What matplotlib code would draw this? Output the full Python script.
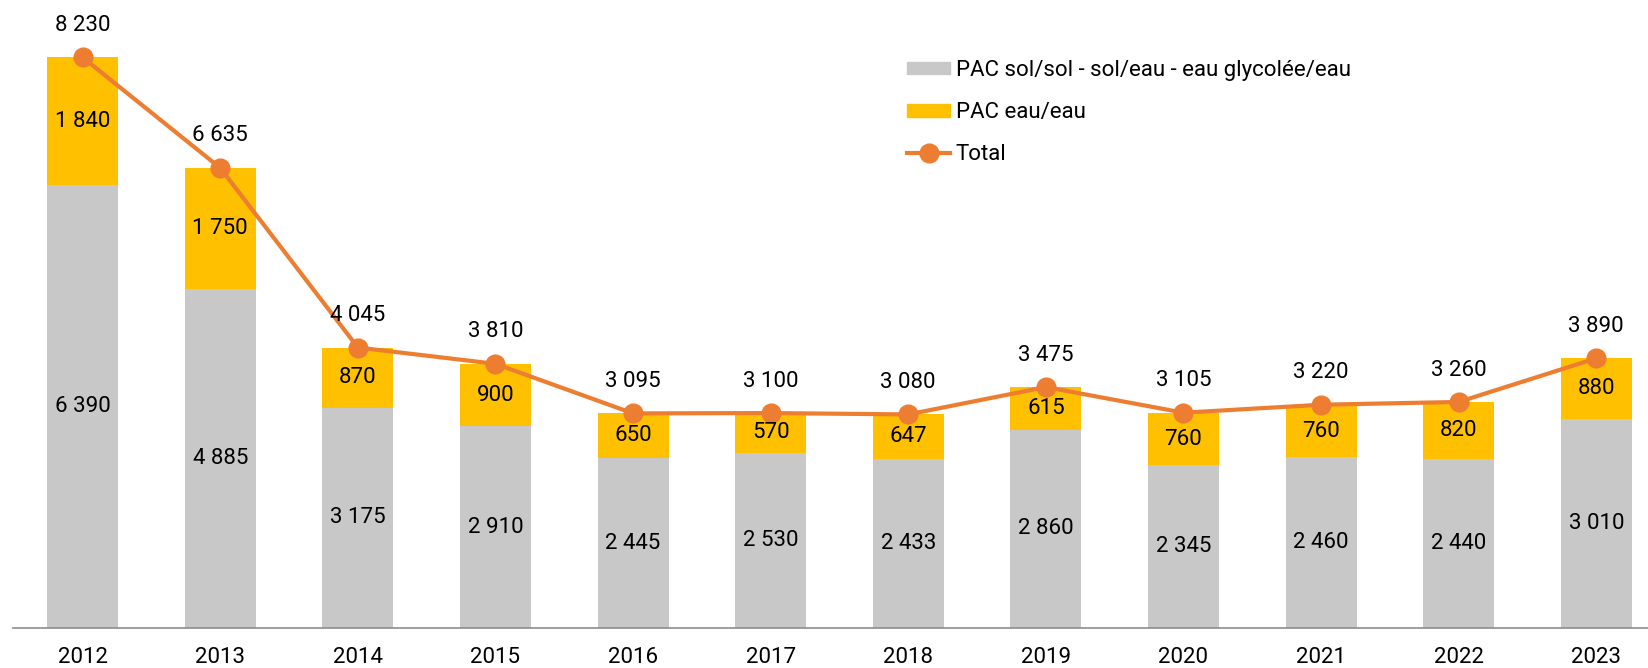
import matplotlib.pyplot as plt
from matplotlib.patches import Patch
from matplotlib.lines import Line2D

# Data
years = ['2012', '2013', '2014', '2015', '2016', '2017', '2018', '2019', '2020', '2021', '2022', '2023']
sol_sol = [6390, 4885, 3175, 2910, 2445, 2530, 2433, 2860, 2345, 2460, 2440, 3010]
eau_eau = [1840, 1750, 870, 900, 650, 570, 647, 615, 760, 760, 820, 880]
total = [8230, 6635, 4045, 3810, 3095, 3100, 3080, 3475, 3105, 3220, 3260, 3890]

GREY = '#C8C8C8'
YELLOW = '#FFC000'
ORANGE = '#ED7D31'
FS = 16


def fmt(v):
    return f"{v:,}".replace(",", " ")


plt.rcParams['font.family'] = ['Roboto', 'DejaVu Sans']
fig = plt.figure(figsize=(16.48, 6.68), dpi=100)
ax = fig.add_axes([13 / 1648, 40 / 668, 1 - 13 / 1648, 628 / 668])

x = list(range(len(years)))
w = 0.516
ax.bar(x, sol_sol, width=w, color=GREY, zorder=1)
ax.bar(x, eau_eau, width=w, bottom=sol_sol, color=YELLOW, zorder=1)
ax.plot(x, total, color=ORANGE, lw=3, marker='o', ms=13.5, zorder=3)

# segment labels
for i in x:
    ax.text(i, sol_sol[i] / 2, fmt(sol_sol[i]), ha='center', va='center', fontsize=FS)
    ax.text(i, sol_sol[i] + eau_eau[i] / 2, fmt(eau_eau[i]), ha='center', va='center', fontsize=FS)
    ax.annotate(fmt(total[i]), (i, total[i]), xytext=(0, 23), textcoords='offset points',
                ha='center', va='center', fontsize=FS)

ax.set_xlim(-0.506, 11.376)
ax.set_ylim(0, 9057)
ax.set_xticks(x)
ax.set_xticklabels(years, fontsize=FS)
ax.tick_params(axis='x', length=0, pad=14)
ax.set_yticks([])
for s in ['top', 'right', 'left']:
    ax.spines[s].set_visible(False)
ax.spines['bottom'].set_color('#8C8C8C')
ax.spines['bottom'].set_linewidth(1.2)

handles = [Patch(color=GREY), Patch(color=YELLOW),
           Line2D([], [], color=ORANGE, lw=3, marker='o', ms=13.5)]
labels = ['PAC sol/sol - sol/eau - eau glycolée/eau', 'PAC eau/eau', 'Total']
fig.legend(handles, labels, loc='upper left', bbox_to_anchor=(887 / 1648, 1 - 40 / 668),
           frameon=False, fontsize=FS, handlelength=1.95, handleheight=0.5,
           labelspacing=0.95, handletextpad=0.25, borderpad=0.4)

plt.savefig('out.png', dpi=100)
